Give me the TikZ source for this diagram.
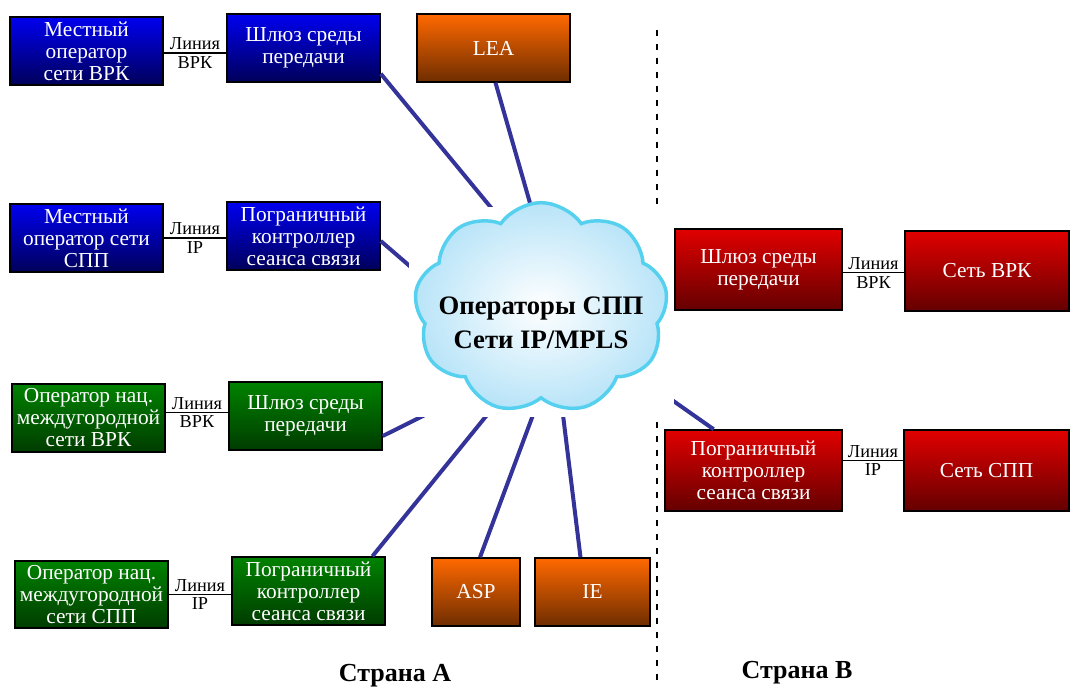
\documentclass[tikz,border=0pt]{standalone}
\usepackage{fontspec}
\setmainfont{Liberation Serif}
\usetikzlibrary{shapes.symbols,calc}
\definecolor{linkblue}{HTML}{333399}
\definecolor{cloudedge}{HTML}{55D0EE}
\definecolor{cloudin}{HTML}{FFFFFF}
\definecolor{cloudout}{HTML}{B8E4F8}
\tikzset{
  box/.style={draw=black, line width=1.1pt, inner sep=0pt, align=center,
    text=white, font=\fontsize{16}{16.5}\selectfont,
    minimum width=114.75pt, minimum height=51pt},
  bluebox/.style={box, top color={rgb,255:red,0;green,0;blue,240}, bottom color={rgb,255:red,0;green,0;blue,90}},
  greenbox/.style={box, top color={rgb,255:red,0;green,130;blue,0}, bottom color={rgb,255:red,0;green,60;blue,0}},
  redbox/.style={box, top color={rgb,255:red,225;green,0;blue,0}, bottom color={rgb,255:red,100;green,0;blue,0}, minimum height=60.75pt},
  orangebox/.style={box, top color={rgb,255:red,255;green,105;blue,0}, bottom color={rgb,255:red,110;green,45;blue,0}},
  thinlink/.style={draw=black, line width=0.9pt},
  linklbl/.style={font=\fontsize{13.7}{14}\selectfont, inner sep=2pt, text=black},
  biglink/.style={draw=linkblue, line width=3pt},
  title/.style={font=\bfseries\fontsize{19.5}{20}\selectfont}
}
\begin{document}
\begin{tikzpicture}[x=0.75pt,y=-0.75pt]
\useasboundingbox (0,0) rectangle (1070,688);
% border dashed line
\coordinate (dtop) at (657,30);
\coordinate (dbot) at (657,688);
\draw[line width=1.5pt, dash pattern=on 4.5pt off 6pt] (dtop) -- (dbot);

% boxes
\node[bluebox] (b1) at (86.5,51) {Местный\\оператор\\сети ВРК};
\node[bluebox] (b2) at (303.5,48) {Шлюз среды\\передачи};
\node[orangebox] (lea) at (493.5,48) {LEA};
\node[bluebox] (b3) at (86.5,238) {Местный\\оператор сети\\СПП};
\node[bluebox] (b4) at (303.5,236) {Пограничный\\контроллер\\сеанса связи};
\node[greenbox] (g1) at (88.5,418) {Оператор нац.\\междугородной\\сети ВРК};
\node[greenbox] (g2) at (305.5,416) {Шлюз среды\\передачи};
\node[greenbox, minimum height=50.25pt] (g3) at (91.5,594.5) {Оператор нац.\\междугородной\\сети СПП};
\node[greenbox] (g4) at (308.5,591) {Пограничный\\контроллер\\сеанса связи};
\node[orangebox, minimum width=66pt] (asp) at (476,592) {ASP};
\node[orangebox, minimum width=86.25pt] (ie) at (592.5,592) {IE};
\node[redbox, minimum width=125.25pt] (r1) at (758.5,269.5) {Шлюз среды\\передачи};
\node[redbox, minimum width=123pt, minimum height=60pt] (r2) at (987,271) {Сеть ВРК};
\node[redbox, minimum width=132.75pt] (r3) at (753.5,470.5) {Пограничный\\контроллер\\сеанса связи};
\node[redbox, minimum width=123.75pt] (r4) at (986.5,470.5) {Сеть СПП};

% thin links with labels
\draw[thinlink] ([yshift=-1.5pt]b1.east) -- ([yshift=-1.5pt]b1.east -| b2.west)
  node[midway, above, linklbl] {Линия} node[midway, below, linklbl] {ВРК};
\draw[thinlink] (b3.east) -- (b3.east -| b4.west)
  node[midway, above, linklbl] {Линия} node[midway, below, linklbl] {IP};
\draw[thinlink] ([yshift=4pt]g1.east) -- ([yshift=4pt]g1.east -| g2.west)
  node[midway, above, linklbl] {Линия} node[midway, below, linklbl] {ВРК};
\draw[thinlink] (g3.east) -- (g3.east -| g4.west)
  node[midway, above, linklbl] {Линия} node[midway, below, linklbl] {IP};
\draw[thinlink] ([yshift=-2.5pt]r1.east) -- ([yshift=-2.5pt]r1.east -| r2.west)
  node[midway, above, linklbl] {Линия} node[midway, below, linklbl] {ВРК};
\draw[thinlink] ([yshift=7.5pt]r3.east) -- ([yshift=7.5pt]r3.east -| r4.west)
  node[midway, above, linklbl] {Линия} node[midway, below, linklbl] {IP};

% thick links to cloud
\coordinate (c1) at (493,210);
\coordinate (c2) at (532,210);
\coordinate (c3) at (412,268);
\coordinate (c4) at (425,415);
\coordinate (c5) at (487,415);
\coordinate (c6) at (533,415);
\coordinate (c7) at (563,415);
\coordinate (c8) at (672,400);
\draw[biglink] ([yshift=6.75pt]b2.south east) -- (c1);
\draw[biglink] ([xshift=1.5pt]lea.south) -- (c2);
\draw[biglink] ([yshift=-3.75pt]b4.east) -- (c3);
\draw[biglink] ([yshift=-15pt]g2.east) -- (c4);
\draw[biglink] ([xshift=-10pt]g4.north east) -- (c5);
\draw[biglink] ([xshift=3pt]asp.north) -- (c6);
\draw[biglink] ([xshift=-9pt]ie.north) -- (c7);
\draw[biglink] ([xshift=37pt]r3.north west) -- (c8);

% cloud
\fill[white] (409,207) rectangle (674,417);
\node[cloud, cloud puffs=9, cloud puff arc=110, cloud ignores aspect,
  draw=cloudedge, line width=2.6pt, inner color=cloudin, outer color=cloudout,
  minimum width=190pt, minimum height=158pt, inner sep=0pt] (cloud) at (541,308) {};
\node[align=center, font=\bfseries\fontsize{20}{25}\selectfont] (cloudtxt) at ([yshift=-11pt]cloud.center)
  {Операторы СПП\\Сети IP/MPLS};

% titles
\node[title] (ta) at (395,676) {Страна А};
\node[title] (tb) at (797,673) {Страна В};
\end{tikzpicture}
\end{document}
